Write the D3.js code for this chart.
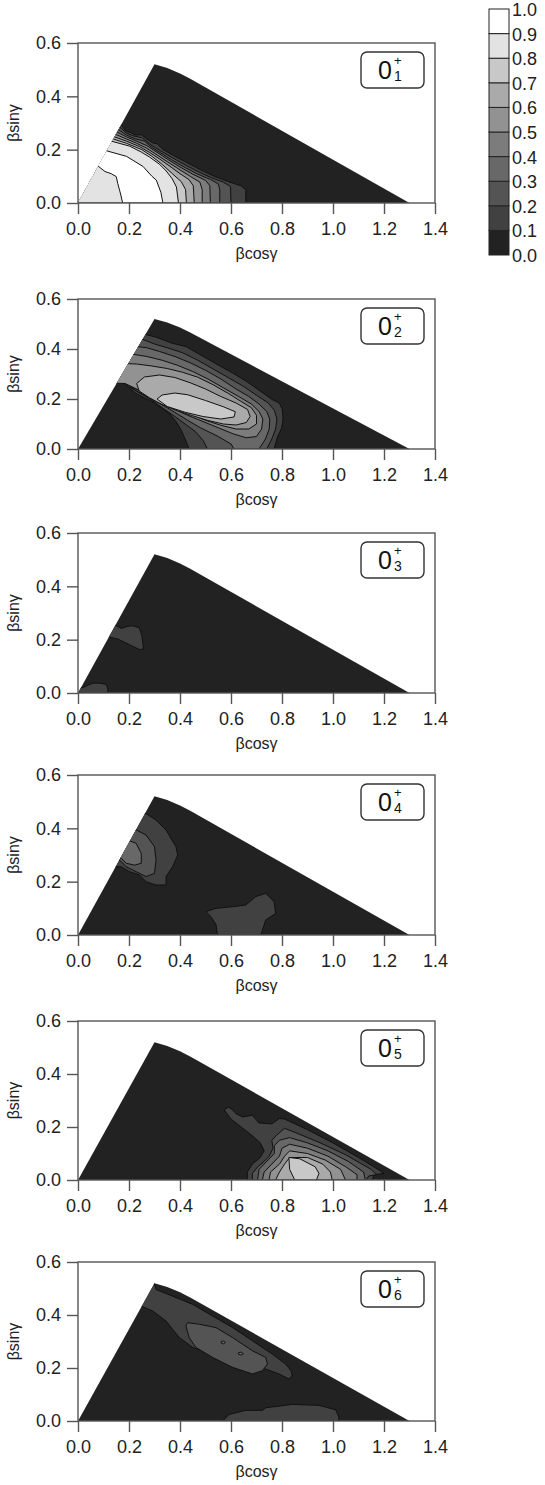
<!DOCTYPE html>
<html>
<head>
<meta charset="utf-8">
<script src="https://cdn.jsdelivr.net/npm/d3@7"></script>
<style>
  body { margin: 0; background: #fff; }
  svg { display: block; font-family: "Liberation Sans", Arial, sans-serif; }
</style>
</head>
<body>
<svg id="chart" width="545" height="1485"></svg>
<script>
// axis ticks and colour levels
const xTicks = [0, 0.2, 0.4, 0.6, 0.8, 1.0, 1.2, 1.4];
const yTicks = [0, 0.2, 0.4, 0.6];
const legendLevels = [0, 0.1, 0.2, 0.3, 0.4, 0.5, 0.6, 0.7, 0.8, 0.9, 1.0];
const stateLabels = ["1", "2", "3", "4", "5", "6"];

// outline of the (beta cos gamma, beta sin gamma) mesh
const meshEdge = [[0, 0], [0.3, 0.52], [0.35, 0.506], [0.40, 0.486], [0.44, 0.466], [1.3, 0]];

// contour regions: lvl = band index (0.1 wide), pts in data units
const regions1 = [
  {lvl: 1, pts: [[-0.05,0.3],[0.168,0.295],[0.187,0.27],[0.209,0.263],[0.225,0.255],[0.248,0.256],[0.27,0.24],[0.294,0.225],[0.31,0.222],[0.335,0.2],[0.375,0.178],[0.43,0.15],[0.48,0.125],[0.53,0.102],[0.59,0.08],[0.64,0.064],[0.658,0.05],[0.658,0],[-0.05,0]]},
  {lvl: 2, pts: [[-0.05,0.285],[0.163,0.285],[0.19,0.262],[0.215,0.252],[0.25,0.245],[0.29,0.215],[0.33,0.192],[0.37,0.17],[0.42,0.143],[0.47,0.118],[0.52,0.096],[0.57,0.078],[0.598,0.062],[0.6,0],[-0.05,0]]},
  {lvl: 3, pts: [[-0.05,0.275],[0.158,0.275],[0.19,0.255],[0.22,0.242],[0.26,0.232],[0.29,0.208],[0.33,0.184],[0.37,0.16],[0.42,0.133],[0.47,0.108],[0.52,0.088],[0.55,0.072],[0.556,0.05],[0.556,0],[-0.05,0]]},
  {lvl: 4, pts: [[-0.05,0.266],[0.153,0.266],[0.19,0.248],[0.23,0.232],[0.27,0.215],[0.31,0.19],[0.35,0.165],[0.4,0.135],[0.45,0.108],[0.5,0.085],[0.517,0.065],[0.519,0],[-0.05,0]]},
  {lvl: 5, pts: [[-0.05,0.257],[0.148,0.257],[0.19,0.24],[0.23,0.224],[0.27,0.205],[0.31,0.18],[0.35,0.155],[0.4,0.124],[0.44,0.1],[0.478,0.078],[0.487,0.05],[0.487,0],[-0.05,0]]},
  {lvl: 6, pts: [[-0.05,0.248],[0.143,0.248],[0.19,0.232],[0.24,0.212],[0.28,0.19],[0.32,0.165],[0.36,0.138],[0.4,0.11],[0.435,0.088],[0.452,0.065],[0.456,0],[-0.05,0]]},
  {lvl: 7, pts: [[-0.05,0.24],[0.138,0.24],[0.19,0.224],[0.25,0.2],[0.29,0.175],[0.33,0.145],[0.37,0.11],[0.405,0.08],[0.422,0.05],[0.425,0],[-0.05,0]]},
  {lvl: 8, pts: [[-0.05,0.232],[0.131,0.232],[0.203,0.213],[0.25,0.19],[0.281,0.172],[0.32,0.145],[0.346,0.12],[0.37,0.09],[0.386,0.06],[0.394,0],[-0.05,0]]},
  {lvl: 9, pts: [[0.05,0.2],[0.111,0.196],[0.19,0.175],[0.255,0.137],[0.29,0.1],[0.307,0.086],[0.325,0.04],[0.333,0],[0.175,0],[0.168,0.03],[0.163,0.048],[0.156,0.073],[0.15,0.099],[0.13,0.11],[0.106,0.118],[0.09,0.13],[0.078,0.139],[0.05,0.139]]}
];

const regions2 = [
  {lvl: 1, pts: [[0.1,0.3],[0.168,0.291],[0.18,0.262],[0.2,0.245],[0.228,0.222],[0.26,0.205],[0.29,0.19],[0.332,0.16],[0.36,0.14],[0.384,0.11],[0.405,0.075],[0.417,0.0475],[0.436,0],[0.769,0],[0.782,0.0475],[0.799,0.085],[0.804,0.1225],[0.801,0.16],[0.788,0.185],[0.762,0.1975],[0.71,0.235],[0.658,0.2725],[0.606,0.304],[0.541,0.341],[0.476,0.379],[0.423,0.41],[0.371,0.4225],[0.306,0.4475],[0.267,0.4575],[0.2,0.5]]},
  {lvl: 2, pts: [[0.1,0.29],[0.172,0.284],[0.19,0.26],[0.21,0.243],[0.24,0.225],[0.275,0.205],[0.31,0.18],[0.345,0.155],[0.38,0.13],[0.42,0.1],[0.46,0.07],[0.49,0.035],[0.508,0],[0.74,0],[0.76,0.04],[0.775,0.08],[0.78,0.12],[0.77,0.155],[0.745,0.185],[0.7,0.215],[0.65,0.25],[0.59,0.285],[0.53,0.32],[0.47,0.355],[0.41,0.385],[0.35,0.405],[0.3,0.42],[0.25,0.44],[0.1,0.45]]},
  {lvl: 3, pts: [[0.1,0.28],[0.175,0.278],[0.2,0.25],[0.23,0.232],[0.27,0.21],[0.31,0.188],[0.35,0.165],[0.39,0.14],[0.43,0.115],[0.48,0.085],[0.55,0.05],[0.6,0.02],[0.612,0],[0.71,0],[0.735,0.04],[0.75,0.08],[0.752,0.12],[0.74,0.15],[0.71,0.18],[0.67,0.21],[0.62,0.24],[0.56,0.28],[0.5,0.315],[0.44,0.345],[0.38,0.37],[0.32,0.39],[0.27,0.405],[0.23,0.41],[0.1,0.41]]},
  {lvl: 4, pts: [[0.1,0.27],[0.18,0.27],[0.21,0.248],[0.25,0.228],[0.29,0.205],[0.33,0.183],[0.38,0.158],[0.43,0.135],[0.49,0.11],[0.55,0.085],[0.61,0.06],[0.66,0.045],[0.7,0.05],[0.72,0.08],[0.725,0.12],[0.71,0.15],[0.68,0.18],[0.63,0.21],[0.57,0.245],[0.51,0.28],[0.45,0.31],[0.39,0.335],[0.33,0.355],[0.27,0.37],[0.21,0.38],[0.1,0.38]]},
  {lvl: 5, pts: [[0.1,0.265],[0.185,0.262],[0.22,0.245],[0.26,0.225],[0.3,0.205],[0.34,0.185],[0.39,0.16],[0.44,0.14],[0.5,0.115],[0.56,0.095],[0.62,0.08],[0.67,0.08],[0.7,0.1],[0.7,0.135],[0.68,0.165],[0.64,0.19],[0.59,0.222],[0.53,0.257],[0.47,0.287],[0.41,0.307],[0.35,0.322],[0.29,0.332],[0.23,0.34],[0.1,0.345]]},
  {lvl: 6, pts: [[0.23,0.262],[0.26,0.288],[0.32,0.296],[0.38,0.286],[0.44,0.265],[0.5,0.24],[0.56,0.21],[0.62,0.184],[0.665,0.158],[0.675,0.13],[0.66,0.106],[0.62,0.096],[0.57,0.1],[0.51,0.114],[0.45,0.133],[0.39,0.153],[0.33,0.178],[0.28,0.205],[0.24,0.232]]},
  {lvl: 7, pts: [[0.31,0.2],[0.33,0.216],[0.38,0.224],[0.43,0.217],[0.5,0.194],[0.57,0.169],[0.617,0.149],[0.612,0.128],[0.56,0.12],[0.49,0.13],[0.42,0.147],[0.35,0.17]]}
];

const regions3 = [
  {lvl: 1, pts: [[0.12,0.26],[0.143,0.256],[0.17,0.242],[0.195,0.25],[0.215,0.252],[0.241,0.244],[0.251,0.2125],[0.257,0.165],[0.241,0.163],[0.202,0.181],[0.156,0.2025],[0.12,0.21]]},
  {lvl: 1, pts: [[0,0],[0,0.02],[0.02,0.02],[0.04,0.03],[0.06,0.037],[0.085,0.037],[0.111,0.032],[0.117,0.015],[0.117,0]]}
];

const regions4 = [
  {lvl: 1, pts: [[0.2,0.46],[0.267,0.455],[0.306,0.431],[0.345,0.394],[0.384,0.331],[0.391,0.3],[0.371,0.256],[0.345,0.219],[0.345,0.1875],[0.306,0.1875],[0.267,0.2],[0.241,0.225],[0.202,0.2375],[0.17,0.256],[0.1,0.256]]},
  {lvl: 2, pts: [[0.18,0.4],[0.228,0.394],[0.267,0.375],[0.3,0.331],[0.306,0.281],[0.3,0.231],[0.267,0.219],[0.228,0.2375],[0.189,0.256],[0.163,0.281],[0.1,0.281]]},
  {lvl: 3, pts: [[0.15,0.36],[0.195,0.356],[0.228,0.344],[0.248,0.306],[0.248,0.269],[0.222,0.262],[0.189,0.269],[0.17,0.2875],[0.14,0.29]]},
  {lvl: 1, pts: [[0.547,0],[0.541,0.04],[0.52,0.07],[0.502,0.0875],[0.541,0.1],[0.606,0.106],[0.658,0.1125],[0.697,0.144],[0.736,0.156],[0.769,0.125],[0.775,0.081],[0.736,0.056],[0.717,0]]}
];

const regions5 = [
  {lvl: 1, pts: [[0.664,0],[0.664,0.03],[0.684,0.06],[0.715,0.085],[0.73,0.11],[0.715,0.14],[0.68,0.17],[0.64,0.2],[0.6,0.23],[0.573,0.265],[0.59,0.275],[0.606,0.265],[0.62,0.25],[0.645,0.238],[0.684,0.244],[0.71,0.215],[0.76,0.212],[0.79,0.232],[0.81,0.23],[0.9,0.19],[1.0,0.14],[1.1,0.085],[1.16,0.05],[1.2,0.025],[1.16,0.02],[1.155,0]]},
  {lvl: 2, pts: [[0.684,0],[0.684,0.025],[0.705,0.05],[0.73,0.07],[0.75,0.09],[0.765,0.12],[0.76,0.15],[0.78,0.17],[0.81,0.195],[0.85,0.18],[0.95,0.14],[1.05,0.095],[1.15,0.04],[1.17,0.02],[1.14,0.015],[1.13,0]]},
  {lvl: 3, pts: [[0.704,0],[0.71,0.04],[0.74,0.07],[0.77,0.1],[0.77,0.13],[0.79,0.15],[0.83,0.16],[0.9,0.14],[0.98,0.11],[1.06,0.07],[1.12,0.03],[1.127,0]]},
  {lvl: 4, pts: [[0.723,0],[0.73,0.03],[0.76,0.06],[0.79,0.09],[0.8,0.12],[0.83,0.135],[0.9,0.12],[0.98,0.09],[1.05,0.05],[1.094,0.02],[1.094,0]]},
  {lvl: 5, pts: [[0.749,0],[0.755,0.03],[0.79,0.06],[0.81,0.09],[0.83,0.11],[0.9,0.1],[0.97,0.075],[1.03,0.04],[1.049,0]]},
  {lvl: 6, pts: [[0.775,0],[0.79,0.03],[0.81,0.06],[0.83,0.085],[0.9,0.085],[0.96,0.06],[0.99,0.03],[0.997,0]]},
  {lvl: 7, pts: [[0.85,0],[0.83,0.04],[0.827,0.085],[0.87,0.08],[0.93,0.05],[0.945,0.025],[0.935,0]]}
];

const regions6 = [
  {lvl: 1, pts: [[0.2,0.434],[0.2475,0.434],[0.293,0.415],[0.345,0.3775],[0.397,0.315],[0.45,0.2775],[0.528,0.2525],[0.606,0.2275],[0.671,0.209],[0.736,0.196],[0.788,0.1775],[0.827,0.159],[0.84,0.17],[0.835,0.19],[0.814,0.215],[0.762,0.2525],[0.684,0.3025],[0.606,0.3525],[0.528,0.396],[0.45,0.44],[0.371,0.471],[0.306,0.496],[0.29,0.55]]},
  {lvl: 2, pts: [[0.43,0.371],[0.476,0.365],[0.541,0.3525],[0.606,0.315],[0.684,0.265],[0.736,0.24],[0.743,0.215],[0.723,0.19],[0.684,0.1775],[0.606,0.2025],[0.528,0.24],[0.4625,0.2775],[0.436,0.315],[0.423,0.359]]},
  {lvl: 3, pts: [[0.562,0.3],[0.572,0.302],[0.578,0.296],[0.57,0.291],[0.562,0.294]]},
  {lvl: 3, pts: [[0.63,0.258],[0.642,0.26],[0.648,0.253],[0.638,0.249],[0.63,0.252]]},
  {lvl: 1, pts: [[0.567,0],[0.593,0.025],[0.658,0.04],[0.723,0.04],[0.736,0.05],[0.84,0.0625],[0.945,0.059],[1.01,0.0425],[1.023,0.015],[1.023,0]]}
];

const panels = [regions1, regions2, regions3, regions4, regions5, regions6];

// plot box of each panel (top, bottom in px); panel 2 is a little shorter in the original
const panelTops = [43, 299, 533, 775, 1021, 1262];
const panelBottoms = [203, 449, 693, 935, 1180, 1421];

const greys = ["#222222","#414141","#545454","#686868","#7c7c7c","#929292","#aaaaaa","#c8c8c8","#e3e3e3","#ffffff"];

const svg = d3.select("#chart");
const x = d3.scaleLinear().domain([0, 1.4]).range([78, 435]);
const fmt = d3.format(".1f");

panels.forEach((regions, i) => {
  const top = panelTops[i];
  const bottom = panelBottoms[i];
  const y = d3.scaleLinear().domain([0, 0.6]).range([bottom, top]);
  const line = d3.line().x(d => x(d[0])).y(d => y(d[1]));
  const g = svg.append("g");

  g.append("clipPath").attr("id", "mesh" + i)
    .append("path").attr("d", line(meshEdge) + "Z");

  g.append("path")
    .attr("d", line(meshEdge) + "Z")
    .attr("fill", greys[0]);

  const cg = g.append("g").attr("clip-path", "url(#mesh" + i + ")");
  regions.forEach(r => {
    cg.append("path")
      .attr("d", line(r.pts) + "Z")
      .attr("fill", greys[r.lvl])
      .attr("stroke", "#111")
      .attr("stroke-width", 1)
      .attr("stroke-linejoin", "round");
  });

  // frame
  g.append("rect")
    .attr("x", x(0)).attr("y", top)
    .attr("width", x(1.4) - x(0)).attr("height", bottom - top)
    .attr("fill", "none").attr("stroke", "#555").attr("stroke-width", 1.4);

  const xa = g.append("g").attr("transform", "translate(0," + bottom + ")")
    .call(d3.axisBottom(x).tickValues(xTicks).tickFormat(fmt).tickSize(11).tickSizeOuter(0).tickPadding(8));
  const ya = g.append("g").attr("transform", "translate(" + x(0) + ",0)")
    .call(d3.axisLeft(y).tickValues(yTicks).tickFormat(fmt).tickSize(11).tickSizeOuter(0).tickPadding(6));
  [xa, ya].forEach(a => {
    a.select(".domain").remove();
    a.selectAll(".tick line").attr("stroke", "#555").attr("stroke-width", 1.4);
    a.selectAll(".tick text").attr("font-size", 18).attr("fill", "#222")
      .attr("font-family", "Liberation Sans, Arial, sans-serif");
  });

  g.append("text")
    .attr("x", (x(0) + x(1.4)) / 2).attr("y", bottom + 56)
    .attr("text-anchor", "middle").attr("font-size", 16).attr("fill", "#222")
    .text("βcosγ");
  g.append("text")
    .attr("transform", "translate(19," + (top + bottom) / 2 + ") rotate(-90)")
    .attr("text-anchor", "middle").attr("font-size", 16).attr("fill", "#222")
    .text("βsinγ");

  // state label box
  const bx = x(1.4) - 74, by = top + 9;
  g.append("rect")
    .attr("x", bx).attr("y", by).attr("width", 63).attr("height", 36).attr("rx", 6)
    .attr("fill", "#fff").attr("stroke", "#333").attr("stroke-width", 1.4);
  g.append("text").attr("x", bx + 17).attr("y", by + 27)
    .attr("font-size", 25).attr("fill", "#111").text("0");
  g.append("text").attr("x", bx + 33).attr("y", by + 13)
    .attr("font-size", 13).attr("fill", "#111").text("+");
  g.append("text").attr("x", bx + 33).attr("y", by + 29)
    .attr("font-size", 14).attr("fill", "#111").text(stateLabels[i]);
});

// legend
const ly = d3.scaleLinear().domain([0, 1]).range([255, 9]);
const lg = svg.append("g");
legendLevels.slice(0, -1).forEach((v, k) => {
  lg.append("rect")
    .attr("x", 489).attr("y", ly(legendLevels[k + 1]))
    .attr("width", 20).attr("height", ly(v) - ly(legendLevels[k + 1]))
    .attr("fill", greys[k]).attr("stroke", "#222").attr("stroke-width", 1);
});
legendLevels.forEach(v => {
  lg.append("text")
    .attr("x", 512).attr("y", ly(v) + 7)
    .attr("font-size", 18).attr("fill", "#222")
    .text(fmt(v));
});
</script>
</body>
</html>
